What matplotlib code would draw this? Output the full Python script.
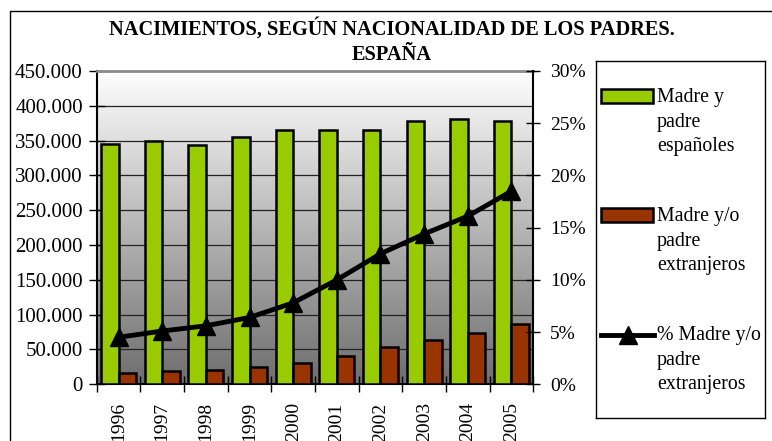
import numpy as np
import matplotlib.pyplot as plt
from matplotlib.patches import Rectangle
from matplotlib.lines import Line2D
from matplotlib.colors import LinearSegmentedColormap
from matplotlib.ticker import FuncFormatter, MultipleLocator

plt.rcParams['font.family'] = ['Liberation Serif', 'DejaVu Serif']

# data
years = ['1996', '1997', '1998', '1999', '2000', '2001', '2002', '2003', '2004', '2005']
espanoles = [345500, 349300, 344000, 355600, 365600, 364700, 365600, 378000, 381000, 378600]
extranjeros = [15800, 19100, 20500, 24400, 31000, 41000, 53000, 63600, 73200, 86600]
pct_extranjeros = [4.5, 5.1, 5.6, 6.4, 7.8, 10.0, 12.5, 14.4, 16.1, 18.5]

green = '#99CC00'
brown = '#993300'

W, H = 772, 441
fig = plt.figure(figsize=(W / 100, H / 100), dpi=100)

# outer chart border (only left and top edges are inside the picture)
fig.patches.append(Rectangle((10 / W, -0.2), 1.2, 1.2 - 11 / H, transform=fig.transFigure,
                             fill=False, edgecolor='black', linewidth=1.0))

ax = fig.add_axes([96.7 / W, (H - 384.3) / H, (533.3 - 96.7) / W, (384.3 - 71) / H])
x = np.arange(len(years))

# gradient background, white at top to grey at bottom
grad = np.linspace(1.0, 0.0, 256).reshape(-1, 1)
cmap = LinearSegmentedColormap.from_list('g', ['#6e6e6e', '#ffffff'])
ax.imshow(grad, extent=[0, 1, 0, 1], transform=ax.transAxes, aspect='auto',
          cmap=cmap, vmin=0, vmax=1, zorder=0)

w = 0.4
ax.bar(x - w / 2, espanoles, w, color=green, edgecolor='black', linewidth=1.8, zorder=3)
ax.bar(x + w / 2, extranjeros, w, color=brown, edgecolor='black', linewidth=1.8, zorder=3)

ax.set_xlim(-0.5, len(years) - 0.5)
ax.set_ylim(0, 450000)
ax.yaxis.set_major_locator(MultipleLocator(50000))
ax.yaxis.set_major_formatter(FuncFormatter(lambda v, p: f'{int(v):,}'.replace(',', '.')))
ax.grid(axis='y', color='#222222', linewidth=0.9, zorder=1)
ax.set_axisbelow(True)

ax.set_xticks(x)
ax.set_xticklabels(years, rotation=90)
ax.set_xticks(np.arange(len(years) + 1) - 0.5, minor=True)
ax.tick_params(axis='x', which='major', length=0, pad=13, labelsize=14)
ax.tick_params(axis='x', which='minor', direction='inout', length=11, width=1)
ax.tick_params(axis='y', direction='inout', length=12, width=1, labelsize=15, pad=4)

for s in ['left', 'bottom']:
    ax.spines[s].set_linewidth(1.5)
ax.spines['top'].set_color('#8c8c8c')
ax.spines['top'].set_linewidth(2)
ax.spines['right'].set_visible(False)

ax2 = ax.twinx()
ax2.plot(x, pct_extranjeros, color='black', linewidth=3.5, marker='^', markersize=13, zorder=5)
ax2.set_ylim(0, 30)
ax2.yaxis.set_major_locator(MultipleLocator(5))
ax2.yaxis.set_major_formatter(FuncFormatter(lambda v, p: f'{int(v)}%'))
ax2.tick_params(axis='y', direction='inout', length=10, width=1, labelsize=14, pad=7)
ax2.spines['right'].set_linewidth(1.5)
for s in ['top', 'left', 'bottom']:
    ax2.spines[s].set_visible(False)

# title
fig.text(392 / W, 1 - 29 / H, 'NACIMIENTOS, SEGÚN NACIONALIDAD DE LOS PADRES.',
         ha='center', va='center', fontsize=14.7, fontweight='bold')
fig.text(392 / W, 1 - 55 / H, 'ESPAÑA', ha='center', va='center', fontsize=14.7, fontweight='bold')

# legend box drawn by hand so the keys sit on the first text line
lax = fig.add_axes([595.7 / W, (H - 418.3) / H, (765 - 595.7) / W, (418.3 - 61) / H])
lax.set_xlim(595.7, 765)
lax.set_ylim(418.3, 61)
lax.set_xticks([])
lax.set_yticks([])
for s in lax.spines.values():
    s.set_linewidth(1.0)

lax.add_patch(Rectangle((601, 89), 52, 14, facecolor=green, edgecolor='black', linewidth=1.8))
lax.add_patch(Rectangle((601, 208), 52, 14, facecolor=brown, edgecolor='black', linewidth=1.8))
lax.add_line(Line2D([601, 654], [335, 335], color='black', linewidth=3.5))
lax.add_line(Line2D([627.5], [335], color='black', marker='^', markersize=13))
labels = ['Madre y\npadre\nespañoles', 'Madre y/o\npadre\nextranjeros', '% Madre y/o\npadre\nextranjeros']
for yy, lab in zip([88, 207, 326], labels):
    lax.text(657, yy, lab, ha='left', va='top', fontsize=14.3, linespacing=1.4)

fig.savefig('out.png', dpi=100)
